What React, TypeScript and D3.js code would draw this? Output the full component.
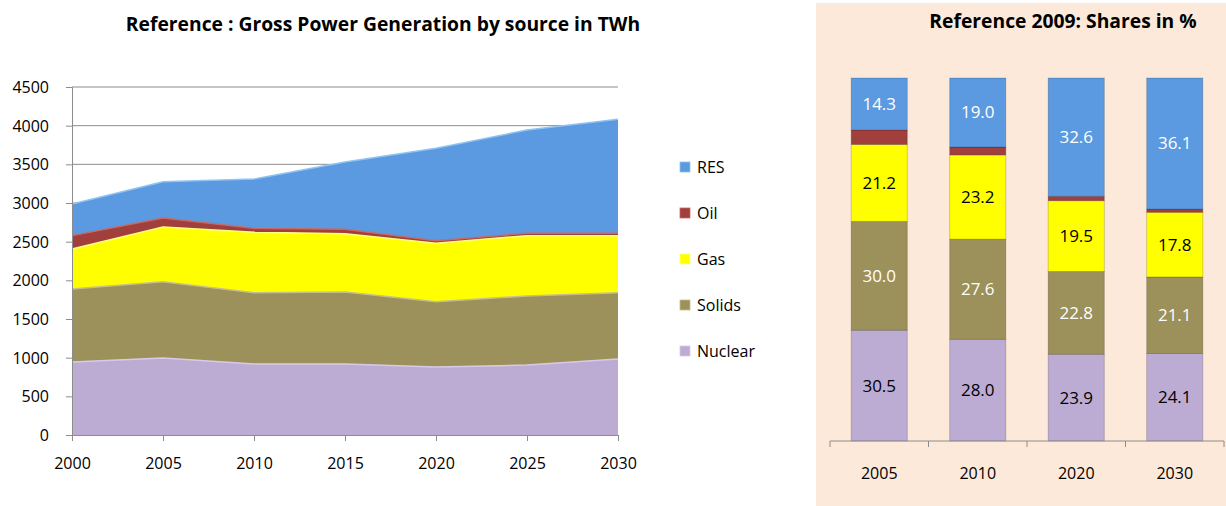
import { useEffect, useRef } from 'react';
import * as d3 from 'd3';

const width = 1226;
const height = 506;

// left chart: gross power generation in TWh
const years = [2000, 2005, 2010, 2015, 2020, 2025, 2030];
const nuclear = [944, 996, 918, 918, 879, 905, 983];
const solids = [944, 986, 922, 931, 845, 892, 857];
const gas = [517, 708, 781, 754, 755, 781, 738];
const oil = [173, 116, 51, 56, 34, 30, 30];
const res = [410, 470, 638, 871, 1194, 1336, 1474];
const yTicks = [0, 500, 1000, 1500, 2000, 2500, 3000, 3500, 4000, 4500];

// right chart: shares in %
const shareYears = ['2005', '2010', '2020', '2030'];
const shareNuclear = [30.5, 28.0, 23.9, 24.1];
const shareSolids = [30.0, 27.6, 22.8, 21.1];
const shareGas = [21.2, 23.2, 19.5, 17.8];
const shareOil = [4.0, 2.2, 1.2, 0.9];
const shareRes = [14.3, 19.0, 32.6, 36.1];

const sources = ['Nuclear', 'Solids', 'Gas', 'Oil', 'RES'];
const fills = {
  Nuclear: '#bcacd3',
  Solids: '#9c905b',
  Gas: '#ffff00',
  Oil: '#a13f3c',
  RES: '#5b9ae0',
};
const edges = {
  Nuclear: '#d6cbe6',
  Solids: '#c8bd8c',
  Gas: '#ffff80',
  Oil: '#c46a66',
  RES: '#8fc4f2',
};
const labelColors = { Nuclear: '#000', Solids: '#fff', Gas: '#000', Oil: '#fff', RES: '#fff' };

const font = '"Open Sans", Lato, sans-serif';

function App() {
  const ref = useRef(null);

  useEffect(() => {
    const svg = d3.select(ref.current);
    svg.selectAll('*').remove();

    // ---------- left area chart ----------
    const rows = years.map((y, i) => ({
      year: y,
      Nuclear: nuclear[i],
      Solids: solids[i],
      Gas: gas[i],
      Oil: oil[i],
      RES: res[i],
    }));
    const x = d3.scaleLinear().domain([2000, 2030]).range([72, 618]);
    const y = d3.scaleLinear().domain([0, 4500]).range([435, 87]);
    const stacked = d3.stack().keys(sources)(rows);

    const left = svg.append('g');

    left
      .selectAll('line.grid')
      .data(yTicks.slice(1))
      .join('line')
      .attr('x1', 72)
      .attr('x2', 618)
      .attr('y1', (d) => y(d))
      .attr('y2', (d) => y(d))
      .attr('stroke', '#8c8c8c')
      .attr('stroke-width', 1);

    const area = d3
      .area()
      .x((d) => x(d.data.year))
      .y0((d) => y(d[0]))
      .y1((d) => y(d[1]));
    const topLine = d3
      .line()
      .x((d) => x(d.data.year))
      .y((d) => y(d[1]));

    left
      .selectAll('path.area')
      .data(stacked)
      .join('path')
      .attr('d', area)
      .attr('fill', (d) => fills[d.key]);
    left
      .selectAll('path.edge')
      .data(stacked)
      .join('path')
      .attr('d', topLine)
      .attr('fill', 'none')
      .attr('stroke', (d) => edges[d.key])
      .attr('stroke-width', 1.5);

    // axes
    const yAxis = left.append('g').attr('transform', 'translate(72,0)').call(
      d3.axisLeft(y).tickValues(yTicks).tickFormat(d3.format('d')).tickSize(6).tickPadding(17)
    );
    const xAxis = left.append('g').attr('transform', 'translate(0,435)').call(
      d3.axisBottom(x).tickValues(years).tickFormat(d3.format('d')).tickSize(6).tickPadding(17)
    );
    [yAxis, xAxis].forEach((a) => {
      a.select('.domain').attr('stroke', '#8c8c8c');
      a.selectAll('.tick line').attr('stroke', '#8c8c8c');
      a.selectAll('text').attr('font-family', font).attr('font-size', 16).attr('fill', '#000');
    });
    yAxis.selectAll('text').attr('dy', '0.35em');

    left
      .append('text')
      .attr('x', 383)
      .attr('y', 31)
      .attr('text-anchor', 'middle')
      .attr('font-family', font)
      .attr('font-weight', 'bold')
      .attr('font-size', 19.3)
      .text('Reference : Gross Power Generation by source in TWh');

    // legend
    const legendOrder = ['RES', 'Oil', 'Gas', 'Solids', 'Nuclear'];
    const lg = left
      .selectAll('g.legend')
      .data(legendOrder)
      .join('g')
      .attr('transform', (d, i) => `translate(680,${167 + i * 46})`);
    lg.append('rect')
      .attr('x', 0)
      .attr('y', -5)
      .attr('width', 10)
      .attr('height', 10)
      .attr('fill', (d) => fills[d])
      .attr('stroke', (d) => edges[d])
      .attr('stroke-width', 0.8);
    lg.append('text')
      .attr('x', 17)
      .attr('dy', '0.35em')
      .attr('font-family', font)
      .attr('font-size', 16)
      .text((d) => d);

    // ---------- right stacked bars ----------
    const right = svg.append('g');
    right
      .append('rect')
      .attr('x', 816)
      .attr('y', 3)
      .attr('width', width - 816)
      .attr('height', height - 3)
      .attr('fill', '#fde9d9');

    right
      .append('text')
      .attr('x', 1063)
      .attr('y', 28)
      .attr('text-anchor', 'middle')
      .attr('font-family', font)
      .attr('font-weight', 'bold')
      .attr('font-size', 19.3)
      .text('Reference 2009: Shares in %');

    const shareRows = shareYears.map((yr, i) => ({
      year: yr,
      Nuclear: shareNuclear[i],
      Solids: shareSolids[i],
      Gas: shareGas[i],
      Oil: shareOil[i],
      RES: shareRes[i],
    }));
    const xb = d3.scaleBand().domain(shareYears).range([830, 1224]).paddingInner(0.43).paddingOuter(0.215);
    const yb = d3.scaleLinear().domain([0, 100]).range([441, 78]);
    const shareStack = d3.stack().keys(sources)(shareRows);

    const layer = right
      .selectAll('g.layer')
      .data(shareStack)
      .join('g')
      .attr('fill', (d) => fills[d.key]);
    layer
      .selectAll('rect')
      .data((d) => d.map((v) => ({ key: d.key, v })))
      .join('rect')
      .attr('x', (d) => xb(d.v.data.year))
      .attr('width', xb.bandwidth())
      .attr('y', (d) => yb(d.v[1]))
      .attr('height', (d) => yb(d.v[0]) - yb(d.v[1]))
      .attr('stroke', 'rgba(0,0,0,0.18)')
      .attr('stroke-width', 1);

    layer
      .selectAll('text')
      .data((d) => (d.key === 'Oil' ? [] : d.map((v) => ({ key: d.key, v }))))
      .join('text')
      .attr('x', (d) => xb(d.v.data.year) + xb.bandwidth() / 2)
      .attr('y', (d) => (yb(d.v[0]) + yb(d.v[1])) / 2)
      .attr('dy', '0.35em')
      .attr('text-anchor', 'middle')
      .attr('font-family', font)
      .attr('font-size', 17)
      .attr('fill', (d) => labelColors[d.key])
      .text((d) => d3.format('.1f')(d.v[1] - d.v[0]));

    const xbAxis = right.append('g').attr('transform', 'translate(0,441)');
    xbAxis
      .append('line')
      .attr('x1', 830)
      .attr('x2', 1224)
      .attr('stroke', '#8c8c8c');
    const bandTicks = shareYears.map((d) => xb(d) - (xb.step() - xb.bandwidth()) / 2).concat([1224]);
    xbAxis
      .selectAll('line.tk')
      .data(bandTicks)
      .join('line')
      .attr('x1', (d) => d)
      .attr('x2', (d) => d)
      .attr('y1', 0)
      .attr('y2', 6)
      .attr('stroke', '#8c8c8c');
    xbAxis
      .selectAll('text')
      .data(shareYears)
      .join('text')
      .attr('x', (d) => xb(d) + xb.bandwidth() / 2)
      .attr('y', 32)
      .attr('dy', '0.35em')
      .attr('text-anchor', 'middle')
      .attr('font-family', font)
      .attr('font-size', 16)
      .text((d) => d);
  }, []);

  return (
    <svg
      ref={ref}
      width={width}
      height={height}
      style={{ position: 'absolute', left: 0, top: 0, background: '#fff' }}
    />
  );
}

export default App;
